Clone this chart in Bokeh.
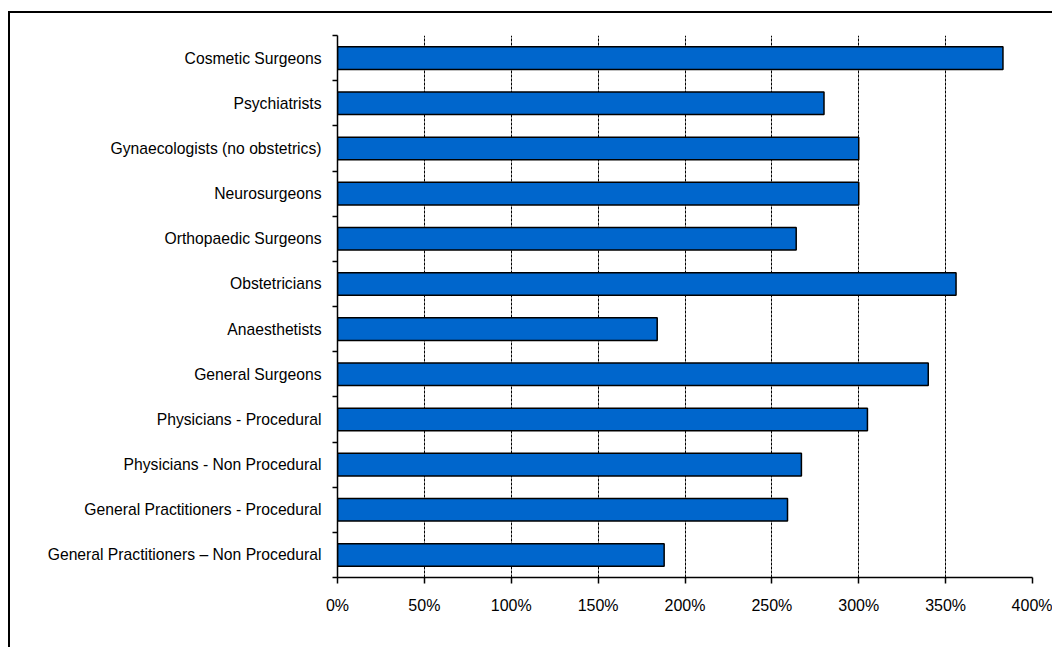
from bokeh.plotting import figure
from bokeh.models import Range1d, FixedTicker, ColumnDataSource
from bokeh.embed import file_html
from bokeh.resources import INLINE

# Specialty groups, listed top to bottom
specialties = [
    "Cosmetic Surgeons",
    "Psychiatrists",
    "Gynaecologists (no obstetrics)",
    "Neurosurgeons",
    "Orthopaedic Surgeons",
    "Obstetricians",
    "Anaesthetists",
    "General Surgeons",
    "Physicians - Procedural",
    "Physicians - Non Procedural",
    "General Practitioners - Procedural",
    "General Practitioners \u2013 Non Procedural",
]
# Percentage increase for each group
increase_pct = [383, 280, 300, 300, 264, 356, 184, 340, 305, 267, 259, 188]
x_ticks = [0, 50, 100, 150, 200, 250, 300, 350, 400]
x_tick_labels = [f"{t}%" for t in x_ticks]

n = len(specialties)
centers = [n - i - 0.5 for i in range(n)]
boundaries = list(range(n + 1))

src = ColumnDataSource(dict(y=centers, right=increase_pct, name=specialties))

# The chart sits inside a box framed on the left and top
p = figure(
    width=1044, height=636,
    output_backend="svg", toolbar_location=None,
    x_range=Range1d(0, 400), y_range=Range1d(0, n),
    min_border_left=327, min_border_right=22,
    min_border_top=22, min_border_bottom=72,
    styles={
        "margin-left": "8px", "margin-top": "11px",
        "border-left": "2px solid black", "border-top": "2px solid black",
    },
)
p.outline_line_color = None
p.background_fill_color = "white"
p.border_fill_color = "white"

p.hbar(y="y", left=0, right="right", height=0.5, source=src,
       fill_color="#0066CC", line_color="black", line_width=1.5)

font = "Liberation Sans"

# x axis
p.xaxis.ticker = FixedTicker(ticks=x_ticks, minor_ticks=[])
p.xaxis.major_label_overrides = {t: l for t, l in zip(x_ticks, x_tick_labels)}
p.xaxis.axis_line_color = "black"
p.xaxis.axis_line_width = 1.5
p.xaxis.major_tick_line_color = "black"
p.xaxis.major_tick_line_width = 1.5
p.xaxis.major_tick_out = 6
p.xaxis.major_tick_in = 0
p.xaxis.minor_tick_line_color = None
p.xaxis.major_label_standoff = 13
p.xaxis.major_label_text_font = font
p.xaxis.major_label_text_font_size = "16px"
p.xaxis.major_label_text_color = "black"

# y axis: names at bar centres, tick marks between groups
p.yaxis.ticker = FixedTicker(ticks=centers, minor_ticks=boundaries)
p.yaxis.major_label_overrides = {c: s for c, s in zip(centers, specialties)}
p.yaxis.axis_line_color = "black"
p.yaxis.axis_line_width = 1.5
p.yaxis.major_tick_line_color = None
p.yaxis.major_tick_out = 0
p.yaxis.major_tick_in = 0
p.yaxis.minor_tick_line_color = "black"
p.yaxis.minor_tick_line_width = 1.5
p.yaxis.minor_tick_out = 5
p.yaxis.minor_tick_in = 0
p.yaxis.major_label_standoff = 11
p.yaxis.major_label_text_font = font
p.yaxis.major_label_text_font_size = "15.7px"
p.yaxis.major_label_text_color = "black"

# dashed vertical grid
p.xgrid.ticker = FixedTicker(ticks=x_ticks)
p.xgrid.grid_line_color = "black"
p.xgrid.grid_line_dash = "3 1"
p.xgrid.grid_line_width = 1
p.ygrid.grid_line_color = None

open("out.html", "w").write(file_html(p, INLINE))
